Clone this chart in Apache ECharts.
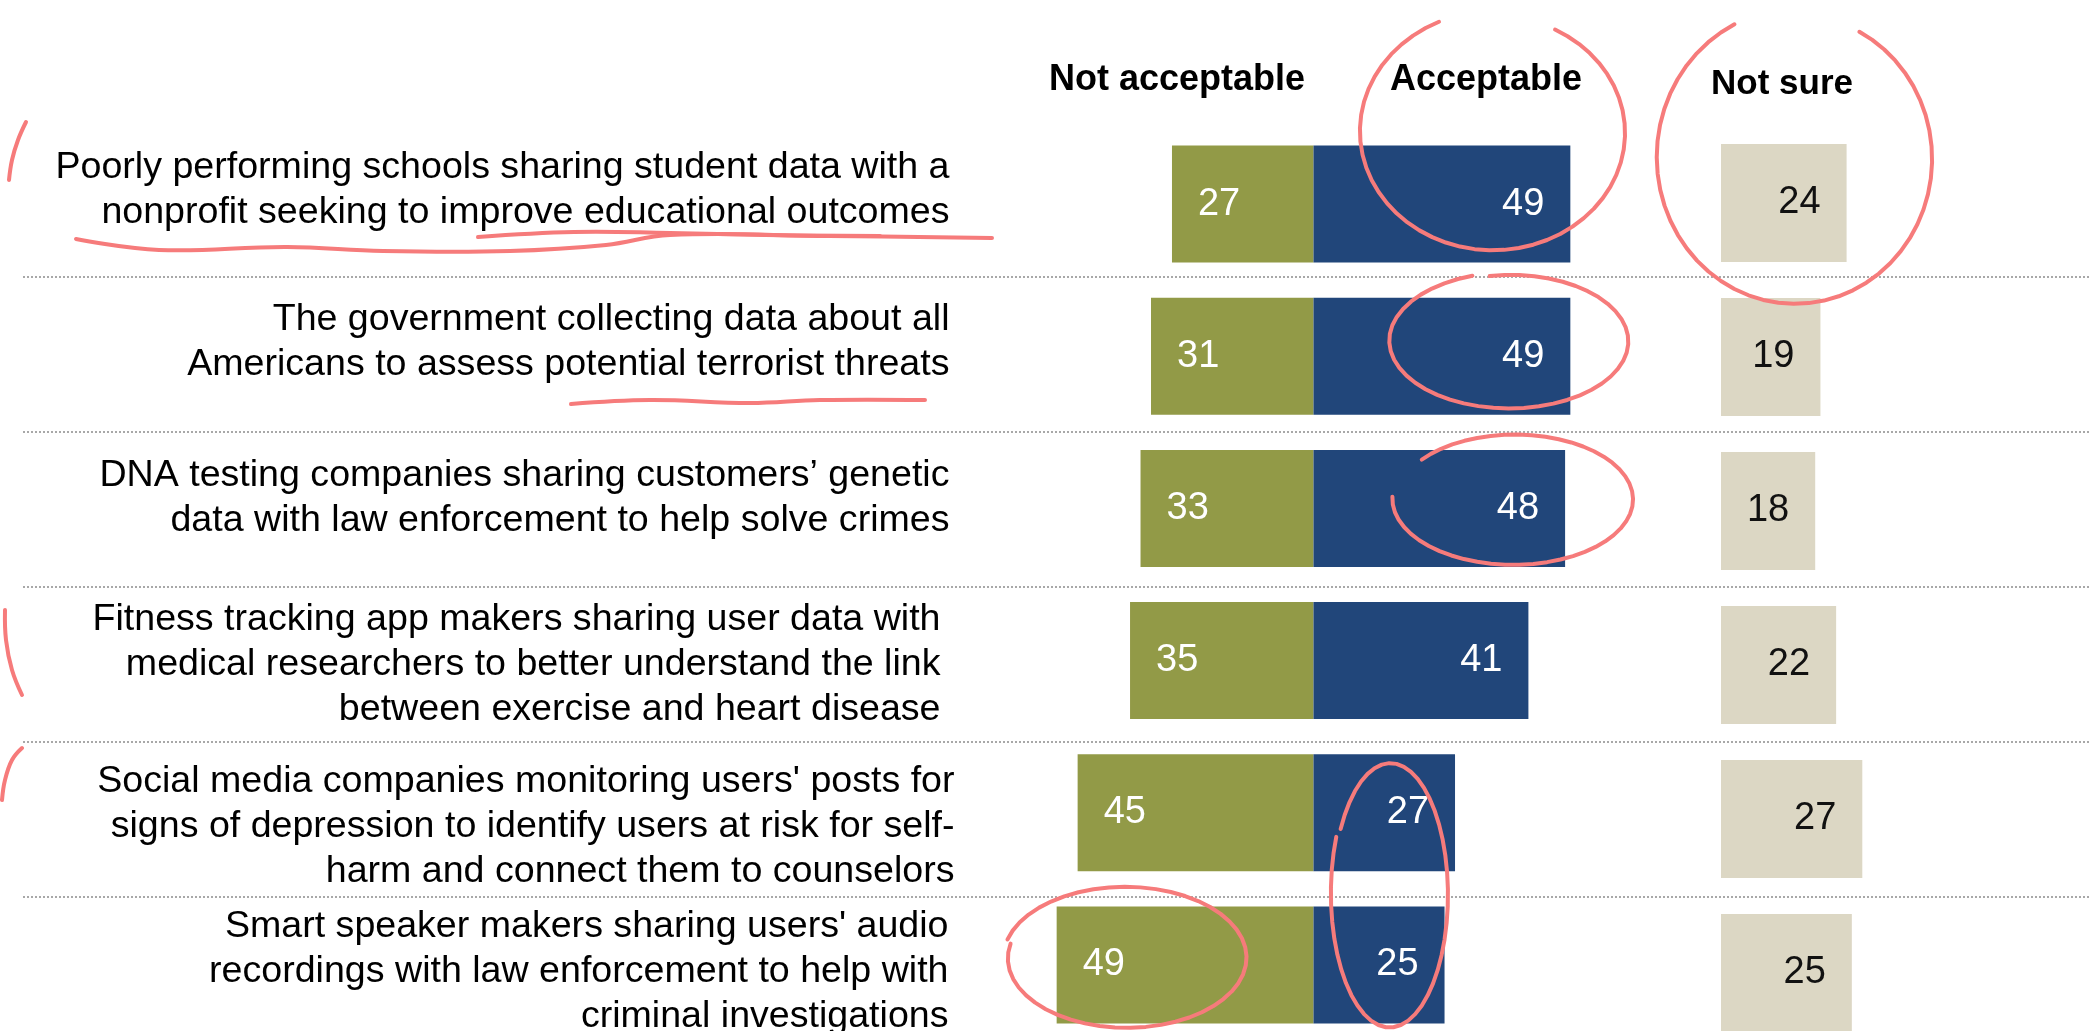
<!DOCTYPE html>
<html>
<head>
<meta charset="utf-8">
<title>Acceptability of data sharing</title>
<script src="https://cdn.jsdelivr.net/npm/echarts@6/dist/echarts.min.js"></script>
<style>
    html, body { margin: 0; padding: 0; background: #fff; }
    #chart { width: 2090px; height: 1031px; }
</style>
</head>
<body>
<div id="chart"></div>
<script>
// row labels, broken into lines as printed
var categories = [
    'Poorly performing schools sharing student data with a\nnonprofit seeking to improve educational outcomes',
    'The government collecting data about all\nAmericans to assess potential terrorist threats',
    'DNA testing companies sharing customers\u2019 genetic\ndata with law enforcement to help solve crimes',
    'Fitness tracking app makers sharing user data with\nmedical researchers to better understand the link\nbetween exercise and heart disease',
    "Social media companies monitoring users' posts for\nsigns of depression to identify users at risk for self-\nharm and connect them to counselors",
    "Smart speaker makers sharing users' audio\nrecordings with law enforcement to help with\ncriminal investigations"
];
var notAcceptable = [27, 31, 33, 35, 45, 49];
var acceptable = [49, 49, 48, 41, 27, 25];
var notSure = [24, 19, 18, 22, 27, 25];
var headers = ['Not acceptable', 'Acceptable', 'Not sure'];

var FONT = "'Liberation Sans', Arial, sans-serif";
var GREEN = '#929a47', BLUE = '#21467a', BEIGE = '#dcd7c4', PEN = '#f67b7b';

// row labels: right edge of the text block and small per-row shifts (px)
var LABEL_X = 927;
var labelShift = [[0, -9], [0, -12], [0, -11], [-9, 0], [5, 7], [-1, -3]];

// hand drawn pen loops (annotation only)
function loop(cx, cy, rx, ry, a0, a1) {
    var pts = [];
    var n = 48;
    for (var k = 0; k <= n; k++) {
        var t = (a0 + (a1 - a0) * k / n) * Math.PI / 180;
        var g = 1 + 0.04 * k / n;
        pts.push([cx + rx * g * Math.cos(t), cy + ry * g * Math.sin(t)]);
    }
    return pts;
}
function pen(points, smooth) {
    return {
        type: 'polyline', silent: true, z: 100,
        shape: { points: points, smooth: smooth || 0 },
        style: { fill: null, stroke: PEN, lineWidth: 4, lineCap: 'round', lineJoin: 'round' }
    };
}

var chart = echarts.init(document.getElementById('chart'));

var valueLabel = function (color, pos) {
    return {
        show: true, position: pos, distance: 26,
        color: color, fontSize: 38, fontFamily: FONT,
        formatter: function (p) { return Math.abs(p.value); }
    };
};

var option = {
    animation: false,
    backgroundColor: '#fff',
    grid: [
        { left: 999, width: 629, top: 128, height: 913, outerBoundsMode: 'none' },
        { left: 1721, width: 157, top: 126, height: 924, outerBoundsMode: 'none' },
        { left: 23, width: 2067, top: 122, height: 930, outerBoundsMode: 'none' }
    ],
    xAxis: [
        { gridIndex: 0, type: 'value', min: -60, max: 60, show: false },
        { gridIndex: 1, type: 'value', min: 0, max: 30, show: false },
        { gridIndex: 2, type: 'value', min: 0, max: 2067, show: false }
    ],
    yAxis: [
        { gridIndex: 0, type: 'category', inverse: true, data: categories, show: false },
        { gridIndex: 1, type: 'category', inverse: true, data: categories, show: false },
        {
            gridIndex: 2, type: 'category', inverse: true, data: categories,
            axisLine: { show: false }, axisTick: { show: false }, axisLabel: { show: false },
            splitLine: {
                show: true, interval: 0, showMinLine: false,
                lineStyle: { color: '#a8a8a8', width: 2, type: [2, 2] }
            }
        }
    ],
    series: [
        {
            name: 'Not acceptable', type: 'bar', stack: 'v',
            xAxisIndex: 0, yAxisIndex: 0, barWidth: 117,
            data: notAcceptable.map(function (v) { return -v; }),
            itemStyle: { color: GREEN },
            label: valueLabel('#fff', 'insideLeft')
        },
        {
            name: 'Acceptable', type: 'bar', stack: 'v',
            xAxisIndex: 0, yAxisIndex: 0, barWidth: 117,
            data: acceptable,
            itemStyle: { color: BLUE },
            label: valueLabel('#fff', 'insideRight')
        },
        {
            name: 'Not sure', type: 'bar',
            xAxisIndex: 1, yAxisIndex: 1, barWidth: 118,
            data: notSure,
            itemStyle: { color: BEIGE },
            label: valueLabel('#111', 'insideRight')
        },
        {
            // carries the row labels
            name: 'rows', type: 'scatter',
            xAxisIndex: 2, yAxisIndex: 2,
            symbolSize: 1, silent: true,
            itemStyle: { color: '#000', opacity: 0 },
            data: categories.map(function (c, i) {
                return { value: [LABEL_X, i], label: { offset: labelShift[i] } };
            }),
            label: {
                show: true, position: 'left', distance: 0, align: 'right',
                opacity: 1, textBorderWidth: 0,
                fontSize: 37.6, lineHeight: 45, color: '#000', fontFamily: FONT,
                formatter: function (p) { return categories[p.dataIndex]; }
            }
        }
    ],
    graphic: [
        { type: 'text', x: 1177, y: 80, style: { text: headers[0], fill: '#000', font: 'bold 36px ' + FONT, align: 'center', verticalAlign: 'middle' } },
        { type: 'text', x: 1486, y: 80, style: { text: headers[1], fill: '#000', font: 'bold 36px ' + FONT, align: 'center', verticalAlign: 'middle' } },
        { type: 'text', x: 1782, y: 84, style: { text: headers[2], fill: '#000', font: 'bold 35px ' + FONT, align: 'center', verticalAlign: 'middle' } },

        pen(loop(1494, 132, 130, 116, -62, 246)),
        pen(loop(1796, 158, 135, 143, -62, 244)),
        pen(loop(1510, 341, 117, 66, -100, 252)),
        pen(loop(1514, 499, 117, 64, -142, 182)),
        pen(loop(1390, 894, 57, 130, -150, 205)),
        pen(loop(1126, 958, 118, 69, 192, -165)),

        pen([[76, 239], [159, 250], [287, 247], [383, 251], [510, 251], [606, 245], [670, 235], [829, 236], [992, 238]], 0.4),
        pen([[478, 237], [574, 232], [670, 233], [765, 235], [880, 236]], 0.4),
        pen([[571, 404], [650, 400], [750, 403], [820, 400], [925, 400]], 0.4),
        pen([[26, 122], [18, 140], [12, 160], [9, 180]], 0.4),
        pen([[5, 610], [6, 640], [12, 670], [22, 695]], 0.4),
        pen([[22, 748], [12, 760], [5, 780], [2, 800]], 0.4)
    ]
};

chart.setOption(option);
</script>
</body>
</html>
